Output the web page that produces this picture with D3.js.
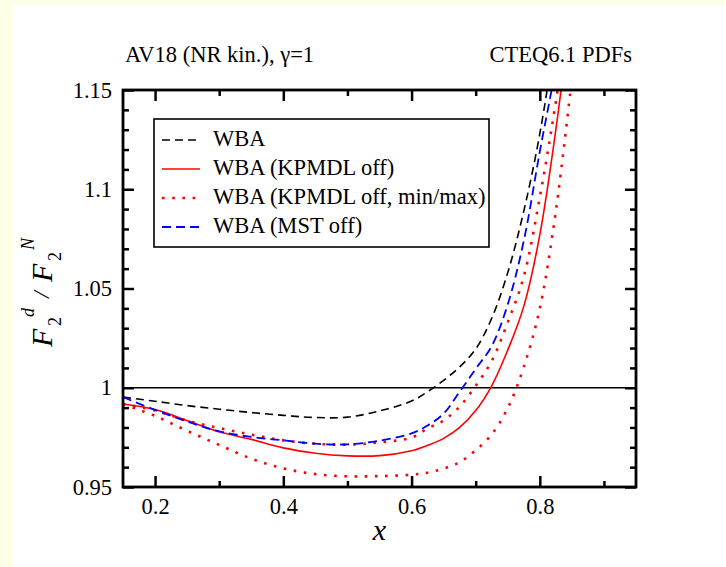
<!DOCTYPE html>
<html><head><meta charset="utf-8">
<script src="https://cdn.jsdelivr.net/npm/d3@7"></script>
<style>
html,body{margin:0;padding:0;background:#FFFFE6;}
text{font-family:"Liberation Serif","Times New Roman",serif;fill:#000;}
</style></head>
<body><svg id="c" width="726" height="567"></svg>
<script>
// ---- data ----
const xs = [0.15,0.2,0.25,0.3,0.35,0.4,0.45,0.5,0.55,0.6,0.625,0.65,0.675,0.7,0.725,0.75,0.775,0.8,0.825,0.85];
const wba        = [0.9953,0.9932,0.9910,0.9892,0.9875,0.9861,0.9850,0.9852,0.9883,0.9933,0.9980,1.0037,1.0105,1.0195,1.0350,1.0580,1.0890,1.1280,1.1800,1.2450];
const kpmdlOff   = [0.9918,0.9890,0.9835,0.9778,0.9740,0.9697,0.9670,0.9657,0.9658,0.9683,0.9710,0.9745,0.9800,0.9885,1.0010,1.0190,1.0410,1.0770,1.1300,1.1950];
const kpmdlMax   = [0.9918,0.9886,0.9834,0.9797,0.9764,0.9735,0.9718,0.9713,0.9725,0.9749,0.9795,0.9835,0.9905,1.0010,1.0135,1.0330,1.0560,1.0960,1.1440,1.2000];
const kpmdlMin   = [0.9918,0.9858,0.9783,0.9712,0.9643,0.9594,0.9565,0.9554,0.9555,0.9562,0.9572,0.9593,0.9625,0.9685,0.9765,0.9898,1.0105,1.0400,1.0890,1.1560];
const mstOff     = [0.9953,0.9888,0.9830,0.9780,0.9752,0.9735,0.9718,0.9715,0.9733,0.9770,0.9810,0.9870,0.9980,1.0095,1.0210,1.0420,1.0740,1.1190,1.1620,1.2150];
const legendLabels = ["WBA","WBA (KPMDL off)","WBA (KPMDL off, min/max)","WBA (MST off)"];
const xMajor = [0.2,0.4,0.6,0.8];
const xMinor = [0.3,0.5,0.7,0.9];
const yMajor = [0.95,1,1.05,1.1,1.15];
const yMinor = [0.96,0.97,0.98,0.99,1.01,1.02,1.03,1.04,1.06,1.07,1.08,1.09,1.11,1.12,1.13,1.14];
const titleLeft = "AV18 (NR kin.), \u03B3=1";
const titleRight = "CTEQ6.1 PDFs";

// ---- layout ----
const svg = d3.select("#c");
svg.append("rect").attr("x",13).attr("y",5).attr("width",713).attr("height",562).attr("fill","#fff");
const L=123, R=636, T=90, B=487;
const x = d3.scaleLinear().domain([0.15,0.95]).range([L,R]);
const y = d3.scaleLinear().domain([0.95,1.15]).range([B,T]);
const FS = 22.5;
const FF = "Liberation Serif, Times New Roman, serif";

svg.append("defs").append("clipPath").attr("id","clip")
  .append("rect").attr("x",L).attr("y",T).attr("width",R-L).attr("height",B-T);

// reference line y=1
svg.append("line").attr("x1",L).attr("x2",R).attr("y1",y(1)).attr("y2",y(1))
  .attr("stroke","#000").attr("stroke-width",1.5);

// curves
const line = d3.line().x((d,i)=>x(xs[i])).y(d=>y(d)).curve(d3.curveCatmullRom.alpha(0.5));
const series = [
  {v:wba, color:"#000", dash:"8,5", w:1.6},
  {v:kpmdlOff, color:"#ff0000", dash:null, w:1.6},
  {v:kpmdlMax, color:"#ff0000", dash:"2.6,7.6", w:2.6},
  {v:kpmdlMin, color:"#ff0000", dash:"2.6,7.6", w:2.6},
  {v:mstOff, color:"#0000ff", dash:"9,5", w:1.8}
];
const g = svg.append("g").attr("clip-path","url(#clip)");
series.forEach(s=>{
  g.append("path").attr("d",line(s.v)).attr("fill","none")
   .attr("stroke",s.color).attr("stroke-width",s.w)
   .attr("stroke-dasharray",s.dash);
});

// axes
function styleAxis(sel){
  sel.attr("font-family",FF).attr("font-size",FS);
  sel.select(".domain").remove();
  sel.selectAll(".tick line").attr("stroke","#000").attr("stroke-width",2.5);
  sel.selectAll("text").style("font-size",FS+"px").style("font-family",FF);
}
const maj=11, mnr=6;
svg.append("g").attr("transform",`translate(0,${B})`)
  .call(d3.axisBottom(x).tickValues(xMajor).tickSizeInner(-maj).tickSizeOuter(0).tickPadding(11).tickFormat(d3.format("")))
  .call(styleAxis);
svg.append("g").attr("transform",`translate(0,${B})`)
  .call(d3.axisBottom(x).tickValues(xMinor).tickSizeInner(-mnr).tickSizeOuter(0).tickFormat(""))
  .call(styleAxis);
svg.append("g").attr("transform",`translate(0,${T})`)
  .call(d3.axisTop(x).tickValues(xMajor).tickSizeInner(-maj).tickSizeOuter(0).tickFormat(""))
  .call(styleAxis);
svg.append("g").attr("transform",`translate(0,${T})`)
  .call(d3.axisTop(x).tickValues(xMinor).tickSizeInner(-mnr).tickSizeOuter(0).tickFormat(""))
  .call(styleAxis);
svg.append("g").attr("transform",`translate(${L},0)`)
  .call(d3.axisLeft(y).tickValues(yMajor).tickSizeInner(-maj).tickSizeOuter(0).tickPadding(11).tickFormat(d3.format("")))
  .call(styleAxis);
svg.append("g").attr("transform",`translate(${L},0)`)
  .call(d3.axisLeft(y).tickValues(yMinor).tickSizeInner(-mnr).tickSizeOuter(0).tickFormat(""))
  .call(styleAxis);
svg.append("g").attr("transform",`translate(${R},0)`)
  .call(d3.axisRight(y).tickValues(yMajor).tickSizeInner(-maj).tickSizeOuter(0).tickFormat(""))
  .call(styleAxis);
svg.append("g").attr("transform",`translate(${R},0)`)
  .call(d3.axisRight(y).tickValues(yMinor).tickSizeInner(-mnr).tickSizeOuter(0).tickFormat(""))
  .call(styleAxis);

// frame
svg.append("rect").attr("x",L).attr("y",T).attr("width",R-L).attr("height",B-T)
  .attr("fill","none").attr("stroke","#000").attr("stroke-width",2.8);

// titles
svg.append("text").attr("x",125).attr("y",62).style("font-size",FS+"px").text(titleLeft);
svg.append("text").attr("x",632).attr("y",62).attr("text-anchor","end").style("font-size",FS+"px").text(titleRight);

// axis labels
svg.append("text").attr("x",(L+R)/2).attr("y",540).attr("text-anchor","middle")
  .style("font-size","30px").style("font-style","italic").text("x");
const yl = svg.append("text").attr("transform","translate(52,347) rotate(-90)").style("font-size","30px");
yl.append("tspan").attr("x",0).attr("y",0).style("font-style","italic").text("F");
yl.append("tspan").attr("x",21).attr("y",9).style("font-size","18px").text("2");
yl.append("tspan").attr("x",30).attr("y",-18).style("font-size","18px").style("font-style","italic").text("d");
yl.append("tspan").attr("x",49).attr("y",-3).style("font-size","24px").style("font-style","italic").text("/");
yl.append("tspan").attr("x",65).attr("y",0).style("font-style","italic").text("F");
yl.append("tspan").attr("x",86).attr("y",9).style("font-size","18px").text("2");
yl.append("tspan").attr("x",97).attr("y",-18).style("font-size","18px").style("font-style","italic").text("N");

// legend
const lg = svg.append("g");
lg.append("rect").attr("x",154).attr("y",119).attr("width",335).attr("height",128)
  .attr("fill","#fff").attr("stroke","#000").attr("stroke-width",1.6);
const legSeries = [series[0],series[1],series[2],series[4]];
legendLabels.forEach((t,i)=>{
  const by = 146 + i*29;
  const s = legSeries[i];
  lg.append("line").attr("x1",162).attr("x2",200).attr("y1",by-6).attr("y2",by-6)
    .attr("stroke",s.color).attr("stroke-width",s.w).attr("stroke-dasharray",s.dash);
  lg.append("text").attr("x",213).attr("y",by).style("font-size",FS+"px").text(t);
});
</script></body></html>
